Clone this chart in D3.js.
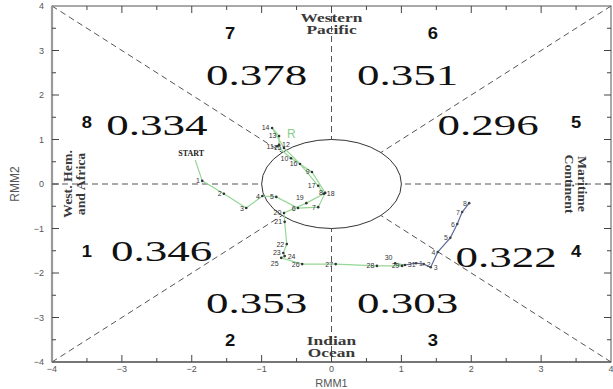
<!DOCTYPE html>
<html>
<head>
<meta charset="utf-8">
<script src="https://cdn.jsdelivr.net/npm/d3@7"></script>
<style>
  html, body { margin: 0; padding: 0; background: #fff; }
  svg { display: block; }
</style>
</head>
<body>
<svg id="chart" width="613" height="389"></svg>
<script>
// RMM phase-space track (RMM1 vs RMM2)
const axisTicks = [-4, -3, -2, -1, 0, 1, 2, 3, 4];
const minorTicks = [-3.5, -2.5, -1.5, -0.5, 0.5, 1.5, 2.5, 3.5];

// phase numbers and per-phase values, with their (RMM1, RMM2) anchor
const phaseNames = ["1", "2", "3", "4", "5", "6", "7", "8"];
const phaseNameX = [-3.5, -1.45, 1.45, 3.5, 3.5, 1.45, -1.45, -3.5];
const phaseNameY = [-1.5, -3.5, -3.5, -1.5, 1.4, 3.4, 3.4, 1.4];
const phaseValues = ["0.346", "0.353", "0.303", "0.322", "0.296", "0.351", "0.378", "0.334"];
const phaseValueX = [-2.43, -1.07, 1.09, 2.5, 2.24, 1.09, -1.07, -2.5];
const phaseValueY = [-1.5, -2.68, -2.68, -1.63, 1.33, 2.45, 2.45, 1.33];

// daily track: first month (green)
const trackDays = ["START", "1", "2", "3", "4", "5", "6", "7", "8", "9", "10",
  "11", "12", "13", "14", "15", "16", "17", "18", "19", "20",
  "21", "22", "23", "24", "25", "26", "27", "28", "29", "30", "31"];
const trackRmm1 = [-1.95, -1.85, -1.54, -1.22, -0.99, -0.79, -0.48, -0.19, -0.09, -0.28, -0.58,
  -0.78, -0.75, -0.75, -0.85, -0.68, -0.45, -0.19, -0.11, -0.36, -0.68,
  -0.67, -0.64, -0.69, -0.67, -0.72, -0.42, 0.06, 0.65, 1.01, 0.91, 1.05];
const trackRmm2 = [0.54, 0.07, -0.22, -0.54, -0.27, -0.29, -0.54, -0.52, -0.20, 0.27, 0.58,
  0.85, 0.88, 1.08, 1.26, 0.81, 0.45, -0.04, -0.22, -0.43, -0.65,
  -0.85, -1.35, -1.55, -1.62, -1.66, -1.80, -1.80, -1.84, -1.84, -1.78, -1.82];

// continuation into the next month (blue)
const nextDays = ["1", "2", "3", "4", "5", "6", "7", "8"];
const nextRmm1 = [1.21, 1.32, 1.42, 1.52, 1.70, 1.80, 1.87, 1.97];
const nextRmm2 = [-1.78, -1.80, -1.87, -1.53, -1.21, -0.90, -0.63, -0.43];

const svg = d3.select("#chart");
const pL = 52, pR = 611, pT = 6, pB = 362;
const x = d3.scaleLinear().domain([-4, 4]).range([pL, pR]);
const y = d3.scaleLinear().domain([-4, 4]).range([pB, pT]);

const dashCol = "#555";
const dash = "6,4";

// dashed phase dividers from the plot edge to the unit circle
const r = Math.SQRT1_2;
const spokes = [
  [[-4, -4], [-r, -r]], [[4, 4], [r, r]], [[-4, 4], [-r, r]], [[4, -4], [r, -r]],
  [[0, 4], [0, 1]], [[0, -4], [0, -1]], [[-4, 0], [-1, 0]], [[4, 0], [1, 0]]
];
svg.append("g").selectAll("line").data(spokes).join("line")
  .attr("x1", d => x(d[0][0])).attr("y1", d => y(d[0][1]))
  .attr("x2", d => x(d[1][0])).attr("y2", d => y(d[1][1]))
  .attr("stroke", dashCol).attr("stroke-width", 1).attr("stroke-dasharray", dash);

// unit circle
svg.append("ellipse")
  .attr("cx", x(0)).attr("cy", y(0))
  .attr("rx", x(1) - x(0)).attr("ry", y(0) - y(1))
  .attr("fill", "none").attr("stroke", "#333").attr("stroke-width", 1);

// axes with inward ticks on all four sides
const tickCol = "#444";
const ax = svg.append("g");
ax.append("rect").attr("x", pL).attr("y", pT).attr("width", pR - pL).attr("height", pB - pT)
  .attr("fill", "none").attr("stroke", "#555").attr("stroke-width", 1);
ax.append("line").attr("x1", pL).attr("x2", pL).attr("y1", pT).attr("y2", pB)
  .attr("stroke", "#9a9a9a").attr("stroke-width", 2.2);
ax.append("line").attr("x1", pL).attr("x2", pR).attr("y1", pB).attr("y2", pB)
  .attr("stroke", "#444").attr("stroke-width", 1.2);

function ticks(values, len) {
  values.forEach(v => {
    ax.append("line").attr("x1", x(v)).attr("x2", x(v)).attr("y1", pB).attr("y2", pB - len).attr("stroke", tickCol);
    ax.append("line").attr("x1", x(v)).attr("x2", x(v)).attr("y1", pT).attr("y2", pT + len).attr("stroke", tickCol);
    ax.append("line").attr("y1", y(v)).attr("y2", y(v)).attr("x1", pL).attr("x2", pL + len).attr("stroke", tickCol);
    ax.append("line").attr("y1", y(v)).attr("y2", y(v)).attr("x1", pR).attr("x2", pR - len).attr("stroke", tickCol);
  });
}
ticks(axisTicks.slice(1, -1), 7);
ticks(minorTicks, 4);

const tickFont = "Liberation Sans, Arial, sans-serif";
svg.append("g").selectAll("text").data(axisTicks).join("text")
  .attr("x", d => x(d)).attr("y", pB + 10)
  .attr("text-anchor", "middle").attr("font-family", tickFont).attr("font-size", 9).attr("fill", "#555")
  .text(d => d < 0 ? "\u2212" + Math.abs(d) : d);
svg.append("g").selectAll("text").data(axisTicks).join("text")
  .attr("x", pL - 8).attr("y", d => y(d) + 3)
  .attr("text-anchor", "end").attr("font-family", tickFont).attr("font-size", 9).attr("fill", "#555")
  .text(d => d < 0 ? "\u2212" + Math.abs(d) : d);

svg.append("text").attr("x", x(0)).attr("y", 387).attr("text-anchor", "middle")
  .attr("font-family", tickFont).attr("font-size", 11).attr("fill", "#555").text("RMM1");
svg.append("text").attr("transform", `translate(19,${y(0)}) rotate(-90)`).attr("text-anchor", "middle")
  .attr("font-family", tickFont).attr("font-size", 12).attr("fill", "#555").text("RMM2");

// stretched text helper
function wideText(g, tx, ty, str, size, sx, opts = {}) {
  return g.append("text")
    .attr("transform", `translate(${tx},${ty}) ${opts.rotate ? "rotate(" + opts.rotate + ")" : ""} scale(${sx},1)`)
    .attr("text-anchor", "middle")
    .attr("font-family", opts.family || "Liberation Serif, Times New Roman, serif")
    .attr("font-size", size)
    .attr("font-weight", opts.weight || "normal")
    .attr("fill", opts.fill || "#111")
    .text(str);
}

// region names
const reg = svg.append("g");
const regOpt = {weight: "bold", fill: "#3a3a3a"};
wideText(reg, x(0), 22, "Western", 12, 1.45, regOpt);
wideText(reg, x(0), 34, "Pacific", 12, 1.45, regOpt);
wideText(reg, x(0), 345, "Indian", 12, 1.45, regOpt);
wideText(reg, x(0), 357, "Ocean", 12, 1.45, regOpt);
wideText(reg, 72, y(0), "West. Hem.", 12, 1.15, {...regOpt, rotate: -90});
wideText(reg, 85, y(0), "and Africa", 12, 1.15, {...regOpt, rotate: -90});
wideText(reg, 578, y(0), "Maritime", 12, 1.15, {...regOpt, rotate: 90});
wideText(reg, 565, y(0), "Continent", 12, 1.15, {...regOpt, rotate: 90});

// phase numbers and values
const ph = svg.append("g");
phaseNames.forEach((n, i) => {
  wideText(ph, x(phaseNameX[i]), y(phaseNameY[i]) + 6, n, 16, 1.15,
    {family: "Liberation Sans, Arial, sans-serif", weight: "bold", fill: "#111"});
});
phaseValues.forEach((v, i) => {
  wideText(ph, x(phaseValueX[i]), y(phaseValueY[i]) + 10, v, 30, 1.5, {fill: "#111"});
});

// trajectories
const line = d3.line().x(d => x(d[0])).y(d => y(d[1]));
const greenPts = trackRmm1.map((v, i) => [v, trackRmm2[i]]);
const bluePts = [greenPts[greenPts.length - 1]].concat(nextRmm1.map((v, i) => [v, nextRmm2[i]]));

svg.append("path").attr("d", line(greenPts)).attr("fill", "none")
  .attr("stroke", "#96d696").attr("stroke-width", 1.2);
svg.append("path").attr("d", line(bluePts)).attr("fill", "none")
  .attr("stroke", "#5c6a9c").attr("stroke-width", 1.2);

// day labels: left of the dot by default, nudged to a free side when crowded
const placed = [];
function overlaps(b) {
  return placed.some(p => b.x0 < p.x1 && b.x1 > p.x0 && b.y0 < p.y1 && b.y1 > p.y0);
}
function dayMarks(pts, labels, col) {
  const g = svg.append("g");
  pts.forEach((p, i) => {
    const px = x(p[0]), py = y(p[1]);
    if (labels[i] === "START") {
      g.append("text").attr("x", px - 4).attr("y", py - 4).attr("text-anchor", "middle")
        .attr("font-family", "Liberation Serif, serif").attr("font-weight", "bold")
        .attr("font-size", 8).attr("fill", "#222").text("START");
      return;
    }
    g.append("circle").attr("cx", px).attr("cy", py).attr("r", 1.3).attr("fill", col);
    const w = labels[i].length * 4.2, h = 6;
    const options = [
      [px - 2 - w, py - 3], [px + 3, py - 3], [px - 2 - w, py - 9],
      [px - 2 - w, py + 3], [px + 3, py - 9], [px + 3, py + 3]
    ];
    let pos = options.find(o => !overlaps({x0: o[0], x1: o[0] + w, y0: o[1], y1: o[1] + h})) || options[0];
    placed.push({x0: pos[0], x1: pos[0] + w, y0: pos[1], y1: pos[1] + h});
    g.append("text").attr("x", pos[0]).attr("y", pos[1] + 5.5)
      .attr("font-family", "Liberation Sans, Arial, sans-serif").attr("font-size", 7).attr("fill", col)
      .text(labels[i]);
  });
}
dayMarks(greenPts, trackDays, "#333");
dayMarks(bluePts.slice(1), nextDays, "#444");

// green marker letter near the turning point
svg.append("text").attr("x", x(trackRmm1[13]) + 8).attr("y", y(trackRmm2[13]) + 2)
  .attr("font-family", "Liberation Sans, Arial, sans-serif").attr("font-size", 12).attr("fill", "#86cf86").text("R");
</script>
</body>
</html>
